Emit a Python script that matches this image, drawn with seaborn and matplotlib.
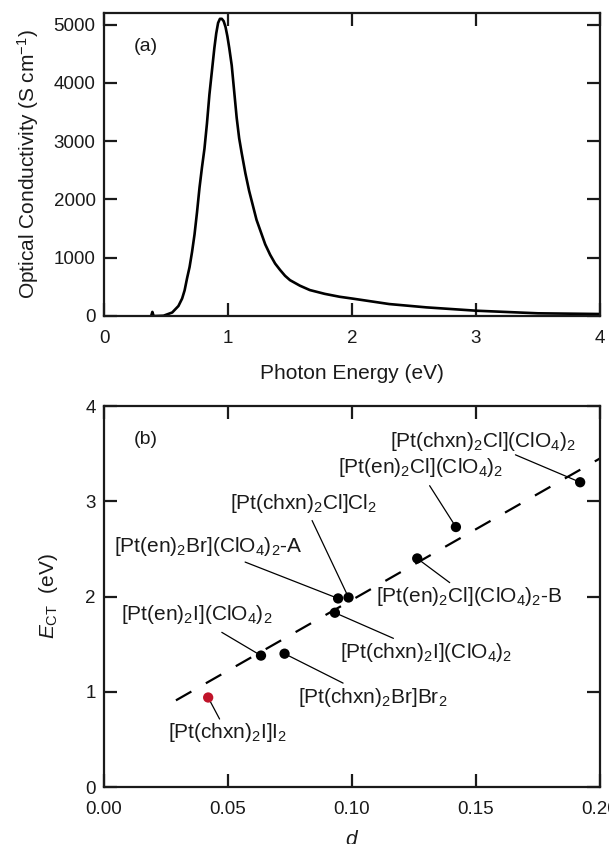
""" Optical conductivity spectrum (a) and E_CT vs d for the Pt-X chain compounds (b). """

import seaborn as sns
import matplotlib.pyplot as plt

# panel (a): optical conductivity
energy = [0.38, 0.39, 0.40, 0.42, 0.48, 0.55, 0.60, 0.63, 0.65, 0.67, 0.69, 0.71,
          0.73, 0.75, 0.77, 0.79, 0.81, 0.83, 0.85, 0.87, 0.89, 0.905, 0.92, 0.935,
          0.95, 0.965, 0.98, 0.995, 1.01, 1.03, 1.05, 1.07, 1.09, 1.11, 1.14, 1.17,
          1.20, 1.23, 1.26, 1.30, 1.34, 1.38, 1.42, 1.46, 1.50, 1.58, 1.66, 1.78,
          1.90, 2.00, 2.30, 2.60, 3.00, 3.50, 4.00]
sigma = [0, 70, 0, 0, 5, 60, 171, 300, 440, 650, 840, 1100,
         1400, 1780, 2200, 2550, 2870, 3300, 3800, 4200, 4600, 4850, 5030, 5100,
         5100, 5060, 4960, 4800, 4600, 4300, 3850, 3400, 3050, 2800, 2450, 2150,
         1900, 1650, 1470, 1230, 1050, 900, 790, 690, 615, 520, 445, 380,
         330, 300, 205, 148, 91, 46, 34]

# panel (b): compounds, d and E_CT
compounds = ['[Pt(chxn)$_2$I]I$_2$',
             '[Pt(en)$_2$I](ClO$_4$)$_2$',
             '[Pt(chxn)$_2$Br]Br$_2$',
             '[Pt(chxn)$_2$I](ClO$_4$)$_2$',
             '[Pt(en)$_2$Br](ClO$_4$)$_2$-A',
             '[Pt(chxn)$_2$Cl]Cl$_2$',
             '[Pt(en)$_2$Cl](ClO$_4$)$_2$-B',
             '[Pt(en)$_2$Cl](ClO$_4$)$_2$',
             '[Pt(chxn)$_2$Cl](ClO$_4$)$_2$']
d_values = [0.042, 0.0633, 0.0728, 0.0931, 0.0944, 0.0986, 0.1263, 0.1419, 0.192]
e_ct = [0.94, 1.38, 1.40, 1.83, 1.98, 1.99, 2.40, 2.73, 3.20]
highlight = [True, False, False, False, False, False, False, False, False]

# dashed guide line
fit_d = [0.029, 0.2]
fit_e = [0.91, 3.45]

# label layout: (text centre), (leader line start) in data coords
label_text_pos = [(0.050, 0.575), (0.0375, 1.81), (0.1083, 0.94), (0.130, 1.41),
                  (0.0419, 2.53), (0.0805, 2.98), (0.1473, 2.00), (0.1278, 3.35),
                  (0.153, 3.63)]
leader_start = [(0.0466, 0.714), (0.0475, 1.624), (0.0964, 1.091), (0.1167, 1.561),
                (0.0569, 2.362), (0.0839, 2.798), (0.1394, 2.146), (0.1313, 3.164),
                (0.1659, 3.488)]

sns.set_theme(style='ticks')
plt.rcParams['font.family'] = ['Liberation Sans', 'DejaVu Sans']
plt.rcParams['mathtext.fontset'] = 'custom'
plt.rcParams['mathtext.rm'] = 'Liberation Sans'
plt.rcParams['mathtext.it'] = 'Liberation Sans:italic'
plt.rcParams['mathtext.bf'] = 'Liberation Sans:bold'

ink = '#1a1a1a'
fig = plt.figure(figsize=(6.09, 8.44), dpi=100)
ax1 = fig.add_axes([0.1708, 0.6256, 0.8144, 0.359])
ax2 = fig.add_axes([0.1708, 0.0675, 0.8144, 0.4514])

for ax in (ax1, ax2):
    for sp in ax.spines.values():
        sp.set_linewidth(1.6)
        sp.set_color(ink)
        sp.set_visible(True)
    ax.tick_params(direction='in', length=9.5, width=1.6, top=True, right=True,
                   labelsize=13.5, colors=ink, labelcolor=ink)
    ax.tick_params(axis='x', pad=10)
    ax.tick_params(axis='y', pad=6)

# (a)
sns.lineplot(x=energy, y=sigma, ax=ax1, color='black', linewidth=1.9, sort=False)
ax1.set_xlim(0, 4)
ax1.set_ylim(0, 5200)
ax1.set_xticks([0, 1, 2, 3, 4])
ax1.set_yticks([0, 1000, 2000, 3000, 4000, 5000])
ax1.set_xlabel('Photon Energy (eV)', fontsize=15, color=ink, labelpad=12)
ax1.set_ylabel('Optical Conductivity (S cm$^{-1}$)', fontsize=15, color=ink, labelpad=9)
ax1.text(0.085, 0.888, '(a)', transform=ax1.transAxes, fontsize=14,
         ha='center', va='center', color=ink)

# (b)
sns.lineplot(x=fit_d, y=fit_e, ax=ax2, color='black', linewidth=1.6,
             dashes=False, sort=False).lines[0].set_dashes((8, 7.5))
colors = ['#c0142a' if h else 'black' for h in highlight]
ax2.scatter(d_values, e_ct, s=55, c=colors, edgecolors='none', zorder=3)
for name, x, y, (tx, ty), (lx, ly) in zip(compounds, d_values, e_ct,
                                          label_text_pos, leader_start):
    ax2.plot([lx, x], [ly, y], color='black', linewidth=0.9, zorder=2)
    ax2.text(tx, ty, name, fontsize=15, ha='center', va='center', color=ink)

ax2.set_xlim(0, 0.2)
ax2.set_ylim(0, 4)
ax2.set_xticks([0, 0.05, 0.10, 0.15, 0.20])
ax2.set_xticklabels(['0.00', '0.05', '0.10', '0.15', '0.20'])
ax2.set_yticks([0, 1, 2, 3, 4])
ax2.set_xlabel('$d$', fontsize=15, color=ink, labelpad=9)
ax2.set_ylabel('$E_{\\mathrm{CT}}$  (eV)', fontsize=15, color=ink, labelpad=18)
ax2.text(0.085, 0.911, '(b)', transform=ax2.transAxes, fontsize=14,
         ha='center', va='center', color=ink)

fig.savefig('out.png', dpi=100)
